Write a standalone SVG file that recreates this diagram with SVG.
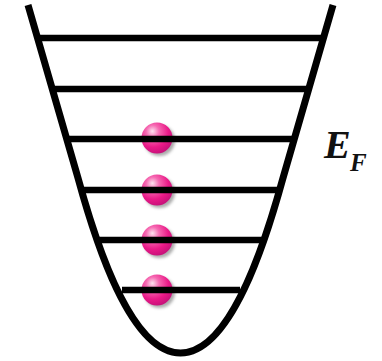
<svg xmlns="http://www.w3.org/2000/svg" width="382" height="361" viewBox="0 0 382 361">
<defs>
<radialGradient id="ballGrad" cx="0.38" cy="0.32" r="0.7" fx="0.35" fy="0.28">
<stop offset="0" stop-color="#fde3f0"/>
<stop offset="0.3" stop-color="#f66ab2"/>
<stop offset="0.7" stop-color="#ea1a88"/>
<stop offset="1" stop-color="#c8107a"/>
</radialGradient>
<filter id="blur" x="-50%" y="-50%" width="200%" height="200%">
<feGaussianBlur stdDeviation="1.5"/>
</filter>
</defs>
<style>
.lvl{stroke:#000;stroke-width:6.5;fill:none}
.well{stroke:#000;stroke-width:7;fill:none;stroke-linejoin:round}
.shadow{fill:#888;opacity:0.7}
.ball{fill:url(#ballGrad)}
.lbl{font-family:"Liberation Serif","Times New Roman",serif;font-weight:bold;font-style:italic;fill:#111}
</style>
<rect width="382" height="361" fill="#fff"/>
<g id="balls">
<g id="ball1"><circle class="shadow" cx="159.5" cy="140.5" r="15.5" filter="url(#blur)"/><circle class="ball" cx="157" cy="138" r="15.5"/></g>
<g id="ball2"><circle class="shadow" cx="159.5" cy="192.5" r="15.5" filter="url(#blur)"/><circle class="ball" cx="157" cy="190" r="15.5"/></g>
<g id="ball3"><circle class="shadow" cx="159.5" cy="242.5" r="15.5" filter="url(#blur)"/><circle class="ball" cx="157" cy="240" r="15.5"/></g>
<g id="ball4"><circle class="shadow" cx="159.5" cy="292.5" r="15.5" filter="url(#blur)"/><circle class="ball" cx="157" cy="290" r="15.5"/></g>
</g>
<g id="levels">
<line class="lvl" x1="36" y1="38" x2="324" y2="38" stroke-width="7.5"/>
<line class="lvl" x1="51" y1="89" x2="309" y2="89"/>
<line class="lvl" x1="66" y1="139" x2="295" y2="139"/>
<line class="lvl" x1="80" y1="190" x2="280" y2="190"/>
<line class="lvl" x1="97" y1="240" x2="263" y2="240"/>
<line class="lvl" x1="122" y1="290" x2="240" y2="290"/>
</g>
<g id="well">
<path class="well" d="M28,5 L78,178 C95,240 130,353 180.5,353 C231,353 266,240 283,178 L333,5"/>
</g>
<g id="label">
<text class="lbl" x="324" y="157.5" font-size="40">E</text>
<text class="lbl" x="350" y="171" font-size="25">F</text>
</g>
</svg>
